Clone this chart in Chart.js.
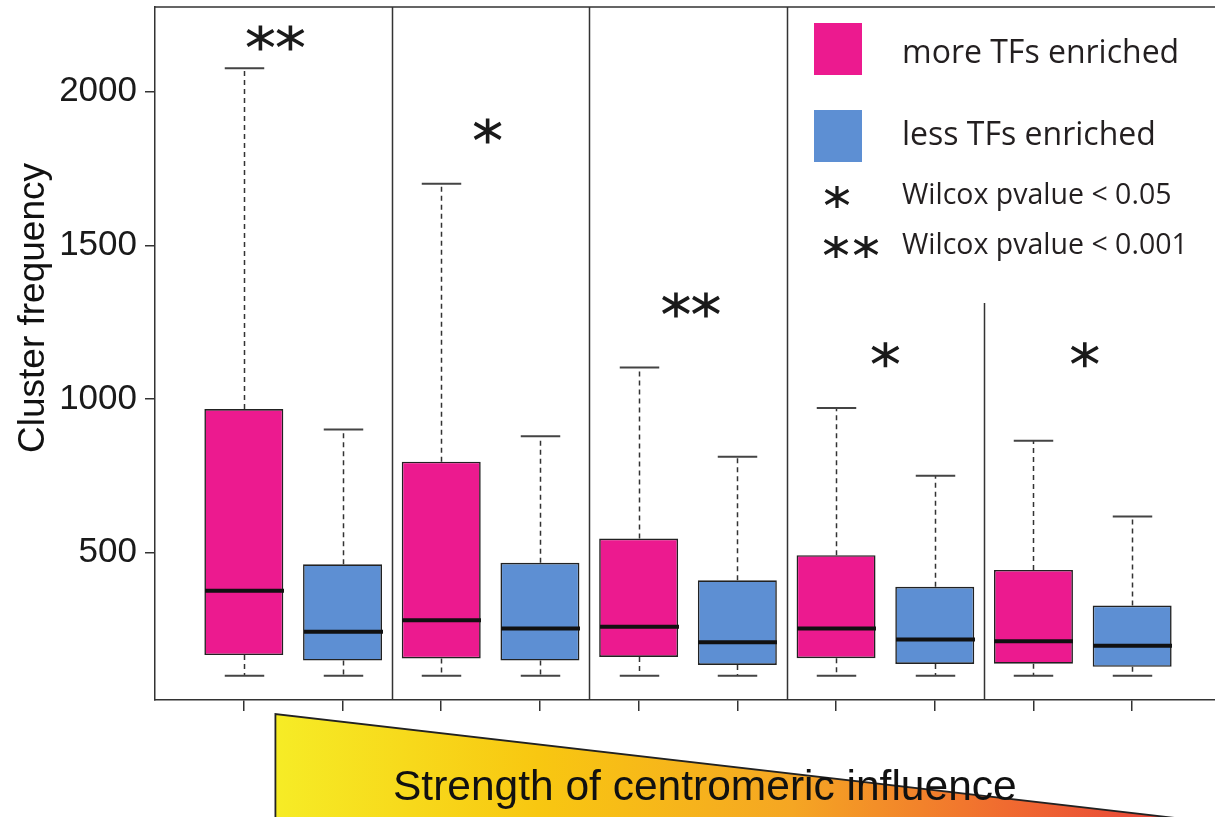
<!DOCTYPE html>
<html>
<head>
<meta charset="utf-8">
<script src="https://cdn.jsdelivr.net/npm/chart.js@4.4.1/dist/chart.umd.min.js"></script>
<style>
html, body { margin: 0; padding: 0; background: #fff; overflow: hidden; }
#wrap { width: 1230px; height: 817px; }
</style>
</head>
<body>
<div id="wrap"><canvas id="canevas" width="1230" height="817"></canvas></div>
<script>
// five bins along the centromere gradient, two boxes in each
var groups = ['bin 1', 'bin 2', 'bin 3', 'bin 4', 'bin 5'];
var seriesNames = ['more TFs enriched', 'less TFs enriched'];
var yTicks = [500, 1000, 1500, 2000];

// lower whisker, Q1, median, Q3, upper whisker
var moreLow  = [100, 100, 100, 100, 100];
var moreQ1   = [167, 156, 161, 157, 139];
var moreMed  = [376, 280, 259, 253, 212];
var moreQ3   = [967, 796, 546, 492, 444];
var moreHigh = [2076, 1700, 1102, 971, 864];

var lessLow  = [100, 100, 100, 100, 100];
var lessQ1   = [149, 149, 135, 138, 129];
var lessMed  = [243, 253, 209, 218, 197];
var lessQ3   = [462, 467, 410, 389, 328];
var lessHigh = [901, 879, 812, 750, 618];

var signif = ['**', '*', '**', '*', '*'];

var PINK = '#ec1a8f';
var BLUE = '#5d8fd3';

// where the significance marks sit (x in box units, y in data units)
var starSpots = [
	{x: 1.32, y: 2174}, {x: 3.47, y: 1872}, {x: 5.53, y: 1306}, {x: 7.50, y: 1144}, {x: 9.52, y: 1144}
];

function boxes(offset, low, q1, med, q3, high) {
	return groups.map(function (g, i) {
		return {x: 2 * i + 1 + offset, low: low[i], q1: q1[i], med: med[i], q3: q3[i], high: high[i]};
	});
}
var moreBoxes = boxes(0, moreLow, moreQ1, moreMed, moreQ3, moreHigh);
var lessBoxes = boxes(1, lessLow, lessQ1, lessMed, lessQ3, lessHigh);

function drawAsterisk(ctx, cx, cy, r) {
	var rd = r * 1.2;
	ctx.beginPath();
	ctx.moveTo(cx, cy - r);
	ctx.lineTo(cx, cy + r);
	[Math.PI / 6, -Math.PI / 6].forEach(function (a) {
		ctx.moveTo(cx - rd * Math.cos(a), cy - rd * Math.sin(a));
		ctx.lineTo(cx + rd * Math.cos(a), cy + rd * Math.sin(a));
	});
	ctx.stroke();
}

function drawStars(ctx, cx, cy, txt, r) {
	if (txt === '**') {
		drawAsterisk(ctx, cx - 15, cy, r);
		drawAsterisk(ctx, cx + 15, cy, r);
	} else {
		drawAsterisk(ctx, cx, cy, r);
	}
}

var boxExtras = {
	id: 'boxExtras',
	afterDatasetsDraw: function (chart) {
		var ctx = chart.ctx, xs = chart.scales.x, ys = chart.scales.y;
		var halfBox = xs.getPixelForValue(1.4) - xs.getPixelForValue(1);
		var halfCap = xs.getPixelForValue(1.2) - xs.getPixelForValue(1);
		ctx.save();
		moreBoxes.concat(lessBoxes).forEach(function (b) {
			var cx = Math.round(xs.getPixelForValue(b.x)) + 0.5;
			// whiskers
			ctx.strokeStyle = '#333';
			ctx.lineWidth = 1.5;
			ctx.setLineDash([5, 4]);
			ctx.beginPath();
			ctx.moveTo(cx, ys.getPixelForValue(b.q3));
			ctx.lineTo(cx, ys.getPixelForValue(b.high));
			ctx.moveTo(cx, ys.getPixelForValue(b.q1));
			ctx.lineTo(cx, ys.getPixelForValue(b.low));
			ctx.stroke();
			ctx.setLineDash([]);
			// caps
			ctx.strokeStyle = '#444';
			ctx.lineWidth = 2;
			ctx.beginPath();
			ctx.moveTo(cx - halfCap, ys.getPixelForValue(b.high));
			ctx.lineTo(cx + halfCap, ys.getPixelForValue(b.high));
			ctx.moveTo(cx - halfCap, ys.getPixelForValue(b.low));
			ctx.lineTo(cx + halfCap, ys.getPixelForValue(b.low));
			ctx.stroke();
			// median
			ctx.strokeStyle = '#111';
			ctx.lineWidth = 4;
			ctx.beginPath();
			ctx.moveTo(cx - halfBox, ys.getPixelForValue(b.med));
			ctx.lineTo(cx + halfBox, ys.getPixelForValue(b.med));
			ctx.stroke();
		});
		ctx.restore();
	},
	afterDraw: function (chart) {
		var ctx = chart.ctx, xs = chart.scales.x, ys = chart.scales.y, area = chart.chartArea;
		ctx.save();

		// frame top and right
		ctx.strokeStyle = '#333';
		ctx.lineWidth = 1.5;
		ctx.beginPath();
		ctx.moveTo(area.left, area.top);
		ctx.lineTo(area.right, area.top);
		ctx.lineTo(area.right, area.bottom);
		ctx.stroke();

		// separators between bins
		ctx.beginPath();
		[2.5, 4.5, 6.5, 8.5].forEach(function (v, i) {
			var px = Math.round(xs.getPixelForValue(v)) + 0.5;
			ctx.moveTo(px, i === 3 ? ys.getPixelForValue(1312) : area.top);
			ctx.lineTo(px, area.bottom);
		});
		ctx.stroke();

		// significance marks
		ctx.strokeStyle = '#1a1a1a';
		ctx.lineWidth = 3.6;
		starSpots.forEach(function (s, i) {
			drawStars(ctx, xs.getPixelForValue(s.x), ys.getPixelForValue(s.y), signif[i], 12.5);
		});

		// legend
		ctx.fillStyle = PINK;
		ctx.fillRect(814, 23, 48, 52);
		ctx.fillStyle = BLUE;
		ctx.fillRect(814, 110, 48, 52);
		ctx.fillStyle = '#231f20';
		ctx.textAlign = 'left';
		ctx.textBaseline = 'alphabetic';
		ctx.font = '32px "Open Sans"';
		ctx.fillText(seriesNames[0], 902, 63);
		ctx.fillText(seriesNames[1], 902, 145);
		ctx.font = '28.5px "Open Sans"';
		ctx.fillText('Wilcox pvalue < 0.05', 902, 204);
		ctx.fillText('Wilcox pvalue < 0.001', 902, 254);
		ctx.lineWidth = 3.2;
		drawStars(ctx, 837, 197, '*', 11);
		drawStars(ctx, 851, 247, '**', 11);

		// y title
		ctx.save();
		ctx.translate(44, 308);
		ctx.rotate(-Math.PI / 2);
		ctx.textAlign = 'center';
		ctx.fillStyle = '#111';
		ctx.font = '37px "Liberation Sans"';
		ctx.fillText('Cluster frequency', 0, 0);
		ctx.restore();

		// gradient wedge under the axis
		var x0 = xs.getPixelForValue(1.32), y0 = area.bottom + 14;
		var slope = (chart.height - y0) / (xs.getPixelForValue(10.35) - x0);
		var xEnd = chart.width;
		var grad = ctx.createLinearGradient(x0, 0, 1215, 0);
		grad.addColorStop(0, '#f6ec26');
		grad.addColorStop(0.28, '#f8c711');
		grad.addColorStop(0.55, '#f5a623');
		grad.addColorStop(0.78, '#f06a30');
		grad.addColorStop(0.95, '#e8443a');
		grad.addColorStop(1, '#e8443a');
		ctx.fillStyle = grad;
		ctx.beginPath();
		ctx.moveTo(x0, y0);
		ctx.lineTo(xEnd, y0 + slope * (xEnd - x0));
		ctx.lineTo(xEnd, chart.height + 10);
		ctx.lineTo(x0, chart.height + 10);
		ctx.closePath();
		ctx.fill();
		ctx.strokeStyle = '#222';
		ctx.lineWidth = 1.8;
		ctx.beginPath();
		ctx.moveTo(x0, chart.height + 10);
		ctx.lineTo(x0, y0);
		ctx.lineTo(xEnd, y0 + slope * (xEnd - x0));
		ctx.stroke();

		ctx.fillStyle = '#111';
		ctx.font = '42.5px "Liberation Sans"';
		ctx.textAlign = 'left';
		ctx.fillText('Strength of centromeric influence', 393, 800);

		ctx.restore();
	}
};

function floating(list) {
	return list.map(function (b) { return {x: b.x, y: [b.q1, b.q3]}; });
}

function noPad(s) {
	s.paddingTop = 0;
	s.paddingBottom = 0;
	s.paddingLeft = 0;
	s.paddingRight = 0;
}

var c = document.getElementById('canevas');
var ctxB = c.getContext('2d');
var boxChart = new Chart(ctxB, {
	type: 'bar',
	data: {
		datasets: [
			{
				label: seriesNames[0],
				data: floating(moreBoxes),
				backgroundColor: PINK,
				borderColor: '#222',
				borderWidth: 1.6,
				borderSkipped: false,
				grouped: false,
				barPercentage: 0.8,
				categoryPercentage: 1
			},
			{
				label: seriesNames[1],
				data: floating(lessBoxes),
				backgroundColor: BLUE,
				borderColor: '#222',
				borderWidth: 1.6,
				borderSkipped: false,
				grouped: false,
				barPercentage: 0.8,
				categoryPercentage: 1
			}
		]
	},
	options: {
		responsive: false,
		animation: false,
		layout: { padding: { top: 7, right: 9, left: 0, bottom: 0 } },
		plugins: {
			legend: { display: false },
			tooltip: { enabled: false }
		},
		scales: {
			x: {
				type: 'linear',
				min: 0.1,
				max: 10.9,
				bounds: 'data',
				offset: false,
				afterBuildTicks: function (s) {
					s.ticks = moreBoxes.concat(lessBoxes).map(function (b) { return {value: b.x}; })
						.sort(function (a, b) { return a.value - b.value; });
				},
				afterFit: function (s) { s.height = 117; noPad(s); },
				ticks: { display: false },
				grid: { offset: false, drawOnChartArea: false, drawTicks: true, tickLength: 11, color: '#333', lineWidth: 1.5 },
				border: { display: true, color: '#333', width: 1.5 }
			},
			y: {
				type: 'linear',
				min: 20.8,
				max: 2275,
				bounds: 'data',
				afterBuildTicks: function (s) {
					s.ticks = yTicks.map(function (v) { return {value: v}; });
				},
				afterFit: function (s) { s.width = 155; noPad(s); },
				ticks: {
					font: { family: 'Liberation Sans', size: 35 },
					color: '#1a1a1a',
					padding: 8,
					callback: function (v) { return String(v); }
				},
				grid: { drawOnChartArea: false, drawTicks: true, tickLength: 10, color: '#333', lineWidth: 1.5 },
				border: { display: true, color: '#333', width: 1.5 }
			}
		}
	},
	plugins: [boxExtras]
});
</script>
</body>
</html>
